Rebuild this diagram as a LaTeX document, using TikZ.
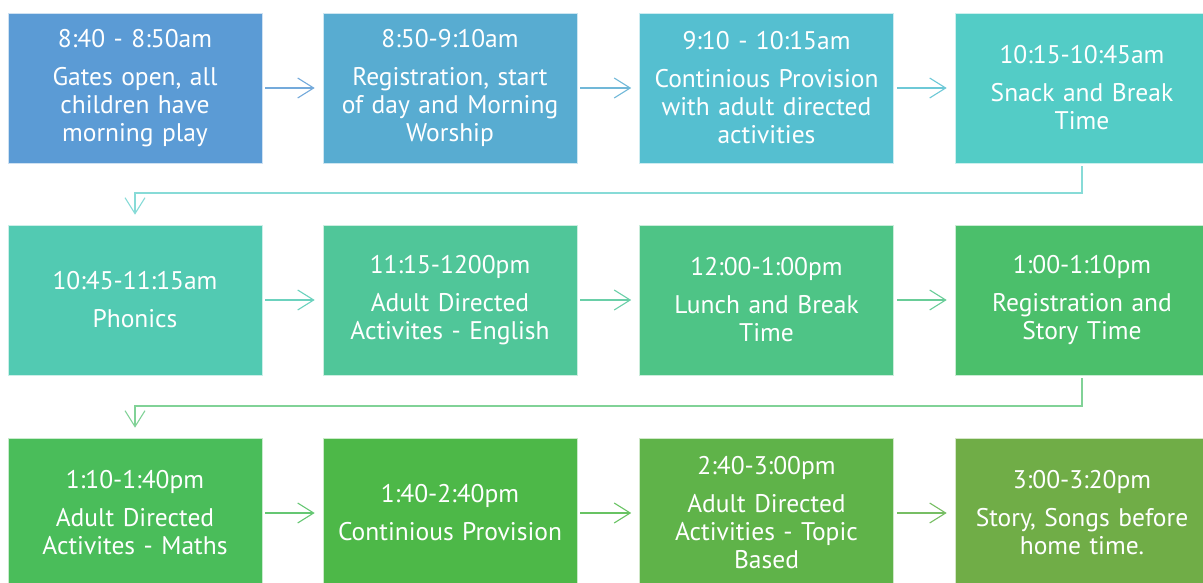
\documentclass[tikz,border=0pt]{standalone}
\usepackage{fontspec}
\setmainfont{PT Sans}
\usepackage{tikz}
\usetikzlibrary{arrows.meta,positioning,calc}

% slot colours, blue morning through to green afternoon
\definecolor{slotA}{HTML}{5B9BD5}
\definecolor{slotB}{HTML}{58ACD1}
\definecolor{slotC}{HTML}{55BFD0}
\definecolor{slotD}{HTML}{53CCC6}
\definecolor{slotE}{HTML}{52CAB2}
\definecolor{slotF}{HTML}{50C699}
\definecolor{slotG}{HTML}{4EC486}
\definecolor{slotH}{HTML}{4BBF6B}
\definecolor{slotI}{HTML}{4ABD5A}
\definecolor{slotJ}{HTML}{4DB848}
\definecolor{slotK}{HTML}{5FB349}
\definecolor{slotL}{HTML}{70AD47}

\tikzset{
  slot/.style={fill=#1,draw=white!70!#1,line width=0.6pt,
               minimum width=254pt,minimum height=150pt,
               text width=250pt,align=center,inner sep=0pt,
               text=white,font=\fontsize{25.5}{28}\selectfont},
  flow/.style={draw=#1!85,line width=1.1pt,
               -{Straight Barb[length=16pt,width=20pt,line width=1.1pt]},
               shorten <=3pt,shorten >=8pt},
  bendflow/.style={draw=#1!70,line width=1.1pt,
               -{Straight Barb[length=16pt,width=20pt,line width=1.1pt]},
               shorten <=3pt,shorten >=10pt}
}

\newcommand{\slottext}[2]{#1\\[10pt]#2}

\begin{document}
\begin{tikzpicture}[x=1pt,y=1pt]
  \useasboundingbox (0,0) rectangle (1203,-583);

  % morning
  \node[slot=slotA] (s1) at (135,-88)    {\slottext{8:40 - 8:50am}{Gates open, all\\children have\\morning play}};
  \node[slot=slotB] (s2) at (450,-88)    {\slottext{8:50-9:10am}{Registration, start\\of day and Morning\\Worship}};
  \node[slot=slotC] (s3) at (766.5,-88)  {\slottext{9:10 - 10:15am}{Continious Provision\\with adult directed\\activities}};
  \node[slot=slotD] (s4) at (1082,-88)   {\slottext{10:15-10:45am}{Snack and Break\\Time}};

  % late morning
  \node[slot=slotE] (s5) at (135,-300)   {\slottext{10:45-11:15am}{Phonics}};
  \node[slot=slotF] (s6) at (450,-300)   {\slottext{11:15-1200pm}{Adult Directed\\Activites - English}};
  \node[slot=slotG] (s7) at (766.5,-300) {\slottext{12:00-1:00pm}{Lunch and Break\\Time}};
  \node[slot=slotH] (s8) at (1082,-300)  {\slottext{1:00-1:10pm}{Registration and\\Story Time}};

  % afternoon
  \node[slot=slotI] (s9) at (135,-513)   {\slottext{1:10-1:40pm}{Adult Directed\\Activites - Maths}};
  \node[slot=slotJ] (s10) at (450,-513)  {\slottext{1:40-2:40pm}{Continious Provision}};
  \node[slot=slotK] (s11) at (766.5,-513){\slottext{2:40-3:00pm}{Adult Directed\\Activities - Topic\\Based}};
  \node[slot=slotL] (s12) at (1082,-513) {\slottext{3:00-3:20pm}{Story, Songs before\\home time.}};

  % arrows along each row
  \foreach \a/\b/\c in {s1/s2/slotA,s2/s3/slotB,s3/s4/slotC,
                        s5/s6/slotE,s6/s7/slotF,s7/s8/slotG,
                        s9/s10/slotI,s10/s11/slotJ,s11/s12/slotK}
    \draw[flow=\c] (\a.east) -- (\b.west);

  % turns down to the next row
  \coordinate (turnA) at (0,-193);
  \coordinate (turnB) at (0,-406);
  \draw[bendflow=slotD] (s4.south) -- (s4.south |- turnA) -- (s5.north |- turnA) -- (s5.north);
  \draw[bendflow=slotH] (s8.south) -- (s8.south |- turnB) -- (s9.north |- turnB) -- (s9.north);
\end{tikzpicture}
\end{document}
